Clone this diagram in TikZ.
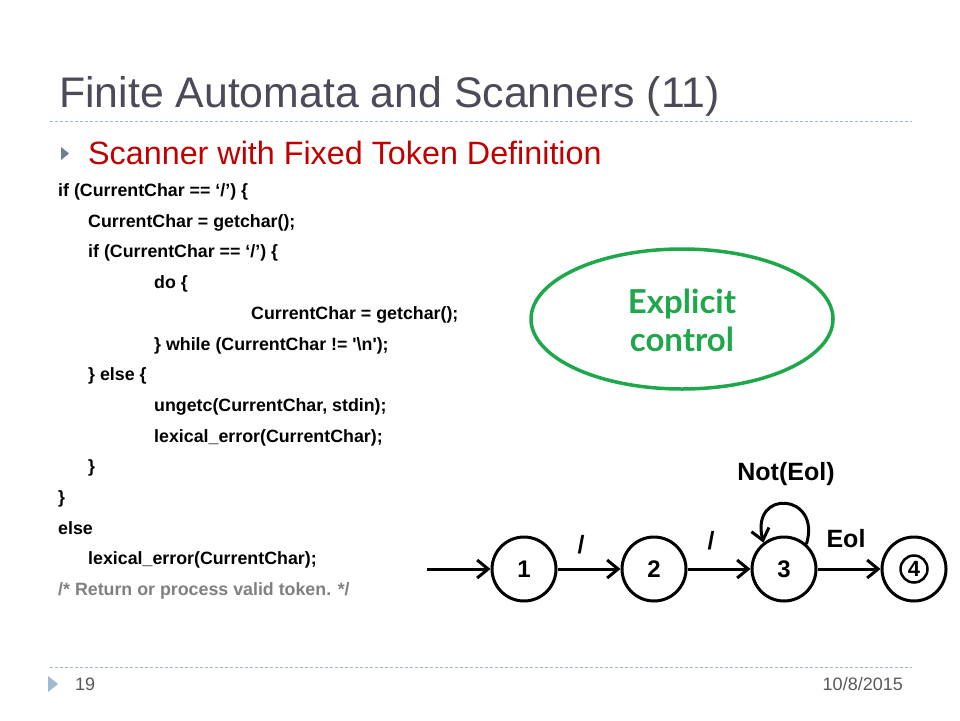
\documentclass[tikz,border=0pt]{standalone}
\usepackage{fontspec}
\setmainfont{Liberation Sans}
\newfontfamily\gillfont{Lato}
\usetikzlibrary{arrows.meta}
\definecolor{titlegray}{RGB}{74,74,88}
\definecolor{subred}{RGB}{192,0,0}
\definecolor{dashblue}{RGB}{165,185,205}
\definecolor{bulletblue}{RGB}{110,125,150}
\definecolor{footblue}{RGB}{160,185,210}
\definecolor{footgray}{RGB}{89,89,89}
\definecolor{commentgray}{RGB}{128,128,128}
\definecolor{ellgreen}{RGB}{30,168,75}
\tikzset{
  codeline/.style={anchor=base west, inner sep=0pt, font=\fontsize{17.8}{20}\selectfont\bfseries},
  state/.style={circle, draw, line width=3pt, minimum size=64pt, inner sep=0pt, font=\fontsize{24}{26}\selectfont\bfseries},
  trans/.style={line width=3pt, -{Straight Barb[length=11pt,width=18pt,line width=3pt]}},
  elabel/.style={inner sep=0pt, font=\fontsize{25}{27}\selectfont\bfseries},
  dashrule/.style={dashblue, line width=1pt, dash pattern=on 3pt off 2pt}
}
\begin{document}
\begin{tikzpicture}[x=1pt,y=-1pt]
\useasboundingbox (0,0) rectangle (960,720);
\fill[white] (0,0) rectangle (960,720);
% title
\node[anchor=base west, inner sep=0pt, text=titlegray, font=\fontsize{42.8}{46}\selectfont] (title) at (59,107) {Finite Automata and Scanners (11)};
\coordinate (tl) at (50,121);
\coordinate (tr) at (912,121);
\draw[dashrule] (tl) -- (tr);
% subtitle
\fill[bulletblue] (61,147) -- (69,153.5) -- (61,160) -- cycle;
\node[anchor=base west, inner sep=0pt, text=subred, font=\fontsize{32.3}{35}\selectfont] (sub) at (88,164) {Scanner with Fixed Token Definition};
% code
\node[codeline] (c1) at (58,196.5) {if (CurrentChar == ‘/’) \{};
\node[codeline] (c2) at (88,227.2) {CurrentChar = getchar();};
\node[codeline] (c3) at (88,257.9) {if (CurrentChar == ‘/’) \{};
\node[codeline] (c4) at (154,288.6) {do \{};
\node[codeline] (c5) at (251,319.3) {CurrentChar = getchar();};
\node[codeline] (c6) at (154,350) {\} while (CurrentChar != \textquotesingle\textbackslash n\textquotesingle);};
\node[codeline] (c7) at (88,380.7) {\} else \{};
\node[codeline] (c8) at (154,411.4) {ungetc(CurrentChar, stdin);};
\node[codeline] (c9) at (154,442.1) {lexical\_error(CurrentChar);};
\node[codeline] (c10) at (88,472.8) {\}};
\node[codeline] (c11) at (58,503.5) {\}};
\node[codeline] (c12) at (58,534.2) {else};
\node[codeline] (c13) at (88,564.9) {lexical\_error(CurrentChar);};
\node[codeline, text=commentgray] (c14) at (58,595.6) {/* Return or process valid token. */};
% ellipse
\draw[ellgreen, line width=3.5pt] (682,319) ellipse [x radius=151, y radius=70];
\node[text=ellgreen, align=center, font=\gillfont\bfseries\fontsize{33}{38}\selectfont] (expl) at (682,320) {Explicit\\control};
% automaton
\coordinate (start) at (427,569);
\node[state] (s1) at (524,569) {1};
\node[state] (s2) at (654,569) {2};
\node[state] (s3) at (784,569) {3};
\node[state] (s4) at (914,569) {};
\node[circle, draw, line width=2.5pt, minimum size=27pt, inner sep=0pt, font=\fontsize{22}{24}\selectfont\bfseries] (s4in) at (914,569) {4};
\draw[trans] (start) -- (s1);
\draw[trans] (s1) -- (s2);
\node[elabel] (lab12) at (581,545) {/};
\draw[trans] (s2) -- (s3);
\node[elabel] (lab23) at (711,541) {/};
\draw[trans] (s3) -- (s4);
\node[elabel] (lab34) at (846,539) {Eol};
\draw[trans] (s3.48) .. controls (822,493) and (750,488) .. (s3.128);
\node[elabel] (lab33) at (786,474) {Not(Eol)};
% footer
\coordinate (fl) at (50,667);
\coordinate (fr) at (912,667);
\draw[dashrule] (fl) -- (fr);
\fill[footblue] (48,676) -- (58,684) -- (48,692) -- cycle;
\node[anchor=west, inner sep=0pt, text=footgray, font=\fontsize{18}{20}\selectfont] (pg) at (75,684) {19};
\node[anchor=east, inner sep=0pt, text=footgray, font=\fontsize{18}{20}\selectfont] (date) at (903,684) {10/8/2015};
\end{tikzpicture}
\end{document}
